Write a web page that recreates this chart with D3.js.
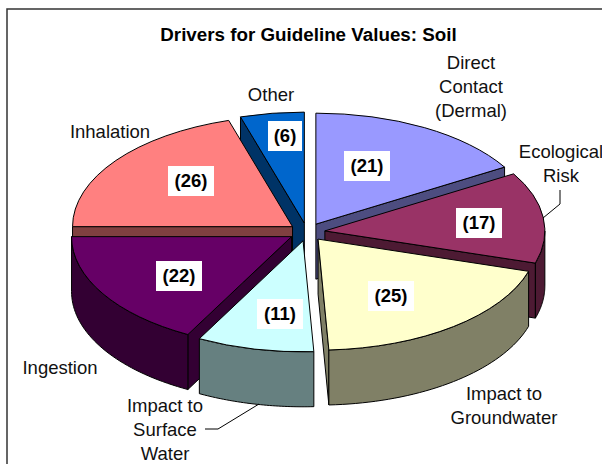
<!DOCTYPE html>
<html>
<head>
<meta charset="utf-8">
<script src="https://cdn.jsdelivr.net/npm/d3@7"></script>
<style>
  html, body { margin: 0; padding: 0; background: #fff; }
  svg { display: block; }
  text { font-family: "Liberation Sans", Arial, sans-serif; }
</style>
</head>
<body>
<div id="chart"></div>
<script>
// chart data
var categories = ['Direct Contact (Dermal)', 'Ecological Risk', 'Impact to Groundwater',
    'Impact to Surface Water', 'Ingestion', 'Inhalation', 'Other'];
var values = [21, 17, 25, 11, 22, 26, 6];
var titleText = 'Drivers for Guideline Values: Soil';

// colours for the top of each slice and for its side walls
var topColors = ['#9999ff', '#993366', '#ffffcc', '#ccffff', '#660066', '#ff8080', '#0066cc'];
var wallColors = ['#4d4d80', '#4d1a33', '#808066', '#668080', '#330033', '#804040', '#003366'];

// where the text sits: category lines are centred on x and start at y
var labelLines = [['Direct', 'Contact', '(Dermal)'], ['Ecological', 'Risk'], ['Impact to', 'Groundwater'],
    ['Impact to', 'Surface', 'Water'], ['Ingestion'], ['Inhalation'], ['Other']];
var labelX = [471, 561, 504, 165, 60, 110, 271];
var labelY = [69, 158, 400, 412, 374, 138, 101];
var boxX = [367, 479, 391, 280, 179, 191, 285];
var boxY = [166, 223, 296, 314, 276, 181, 136];

// some constants for the page
var width = 602;
var height = 464;
var centerX = 307;
var centerY = 232;
var radiusX = 220;
var radiusY = 111;
var depth = 55;
var explodeX = 18;
var explodeY = 9;
var lineGap = 24;

var svg = d3.select('div#chart')
    .append('svg')
    .attr('width', width)
    .attr('height', height);

svg.append('rect')
    .attr('width', width)
    .attr('height', height)
    .attr('fill', 'white');

// chart frame, runs off the right and the bottom of the picture
svg.append('rect')
    .attr('x', 7)
    .attr('y', 9)
    .attr('width', width)
    .attr('height', height)
    .attr('fill', 'none')
    .attr('stroke', '#333')
    .attr('stroke-width', 1.5);

svg.append('text')
    .attr('x', 308.5)
    .attr('y', 41)
    .attr('text-anchor', 'middle')
    .attr('font-size', 18.8)
    .attr('font-weight', 'bold')
    .attr('fill', 'black')
    .text(titleText);

var pie = d3.pie().sort(null);
var arcs = pie(values);
var arc = d3.arc().innerRadius(0).outerRadius(radiusX);
var topColor = d3.scaleOrdinal().domain(categories).range(topColors);
var wallColor = d3.scaleOrdinal().domain(categories).range(wallColors);

// screen position of an angle on the ellipse, clockwise from the top
function rimX(a) { return radiusX * Math.sin(a); }
function rimY(a) { return -radiusY * Math.cos(a); }

var slices = arcs.map(function(d, i) {
    var mid = (d.startAngle + d.endAngle) / 2;
    return {
        arc: d,
        name: categories[i],
        x: centerX + explodeX * Math.sin(mid),
        y: centerY - explodeY * Math.cos(mid)
    };
});

// paint from the back of the pie to the front
slices.sort(function(a, b) { return a.y - b.y; });

var rimArea = d3.area()
    .x(function(a) { return rimX(a); })
    .y0(function(a) { return rimY(a); })
    .y1(function(a) { return rimY(a) + depth; });

var wallLine = d3.line();

var group = svg.selectAll('g.slice')
    .data(slices)
    .enter()
    .append('g')
    .attr('class', 'slice')
    .attr('transform', function(d) { return 'translate(' + d.x + ',' + d.y + ')'; });

group.each(function(d) {
    var g = d3.select(this);
    var start = d.arc.startAngle;
    var end = d.arc.endAngle;

    // the flat cut faces, only the ones that turn towards the viewer
    [start, end].forEach(function(a) {
        var faces = a === start ? Math.sin(a) < -1e-6 : Math.sin(a) > 1e-6;
        if (!faces) return;
        g.append('path')
            .attr('d', wallLine([[0, 0], [rimX(a), rimY(a)], [rimX(a), rimY(a) + depth], [0, depth]]) + 'Z')
            .attr('fill', wallColor(d.name))
            .attr('stroke', 'black')
            .attr('stroke-linejoin', 'round');
    });

    // curved outer wall on the front half
    var from = Math.max(start, Math.PI / 2);
    var to = Math.min(end, Math.PI * 3 / 2);
    if (to > from) {
        var steps = d3.range(0, 41).map(function(k) { return from + (to - from) * k / 40; });
        g.append('path')
            .attr('d', rimArea(steps))
            .attr('fill', wallColor(d.name))
            .attr('stroke', 'black')
            .attr('stroke-linejoin', 'round');
    }

    // top of the slice, a circular arc squashed to the ellipse
    g.append('path')
        .attr('d', arc(d.arc))
        .attr('transform', 'scale(1,' + radiusY / radiusX + ')')
        .attr('fill', topColor(d.name))
        .attr('stroke', 'black')
        .attr('stroke-linejoin', 'round')
        .attr('vector-effect', 'non-scaling-stroke');
});

// leader lines
var leaders = [
    [[560, 190], [560, 204], [543, 218]],
    [[205, 429], [218, 429], [259, 404]]
];
svg.selectAll('path.leader')
    .data(leaders)
    .enter()
    .append('path')
    .attr('class', 'leader')
    .attr('d', function(d) { return wallLine(d); })
    .attr('fill', 'none')
    .attr('stroke', 'black');

// category labels
categories.forEach(function(c, i) {
    svg.append('text')
        .attr('text-anchor', 'middle')
        .attr('font-size', 18.5)
        .attr('fill', '#111')
        .selectAll('tspan')
        .data(labelLines[i])
        .enter()
        .append('tspan')
        .attr('x', labelX[i])
        .attr('y', function(d, k) { return labelY[i] + k * lineGap; })
        .text(function(d) { return d; });
});

// value labels on white boxes
values.forEach(function(v, i) {
    var boxWidth = v < 10 ? 34 : 46;
    svg.append('rect')
        .attr('x', boxX[i] - boxWidth / 2)
        .attr('y', boxY[i] - 15)
        .attr('width', boxWidth)
        .attr('height', 30)
        .attr('fill', 'white');

    svg.append('text')
        .attr('x', boxX[i])
        .attr('y', boxY[i] + 5.5)
        .attr('text-anchor', 'middle')
        .attr('font-size', 18.5)
        .attr('font-weight', 'bold')
        .attr('fill', 'black')
        .text('(' + v + ')');
});
</script>
</body>
</html>
